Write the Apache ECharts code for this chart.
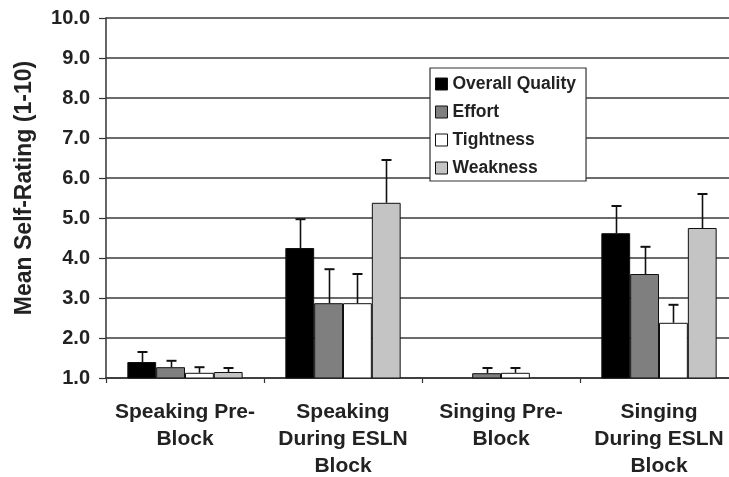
<!DOCTYPE html>
<html><head><meta charset="utf-8">
<script src="https://cdn.jsdelivr.net/npm/echarts@6/dist/echarts.min.js"></script>
<style>html,body{margin:0;padding:0;background:#fff}#c{width:729px;height:477px}</style>
</head><body><div id="c"></div>
<script>
const categories = ['Speaking Pre-\nBlock', 'Speaking\nDuring ESLN\nBlock', 'Singing Pre-\nBlock', 'Singing\nDuring ESLN\nBlock'];
const seriesNames = ['Overall Quality', 'Effort', 'Tightness', 'Weakness'];
const overallQuality = [1.4, 4.25, 1.0, 4.62];
const effort = [1.27, 2.87, 1.12, 3.6];
const tightness = [1.13, 2.87, 1.13, 2.38];
const weakness = [1.15, 5.38, 1.0, 4.75];
const overallQualityErr = [0.25, 0.72, 0, 0.68];
const effortErr = [0.16, 0.85, 0.13, 0.68];
const tightnessErr = [0.14, 0.73, 0.12, 0.45];
const weaknessErr = [0.1, 1.07, 0, 0.85];
const yTicks = [1, 2, 3, 4, 5, 6, 7, 8, 9, 10];

const values = [overallQuality, effort, tightness, weakness];
const errs = [overallQualityErr, effortErr, tightnessErr, weaknessErr];
const colors = ['#000000', '#7f7f7f', '#ffffff', '#c4c4c4'];
const gapFrac = 0.27;

const chart = echarts.init(document.getElementById('c'));
const series = [];
values.forEach((vals, i) => {
  series.push({
    name: seriesNames[i], type: 'bar', data: vals,
    barGap: '0%', barCategoryGap: (gapFrac * 100) + '%',
    itemStyle: { color: colors[i], borderColor: '#111', borderWidth: 1 },
    clip: true, z: 2
  });
});
const errData = [];
values.forEach((vals, i) => vals.forEach((v, c) => { if (errs[i][c] > 0) errData.push([c, v, v + errs[i][c], i]); }));
series.push({
  type: 'custom', data: errData, z: 3, silent: true,
  renderItem: function (params, api) {
    const c = api.value(0), lo = api.value(1), hi = api.value(2), idx = api.value(3);
    const band = api.size([1, 0])[0];
    const w = band * (1 - gapFrac) / 4;
    const p0 = api.coord([c, lo]), p1 = api.coord([c, hi]);
    const x = Math.round(p0[0] - 2 * w + (idx + 0.5) * w) + 0.5;
    const style = { stroke: '#111', lineWidth: 1.6 };
    return { type: 'group', children: [
      { type: 'line', shape: { x1: x, y1: p0[1], x2: x, y2: p1[1] }, style: style },
      { type: 'line', shape: { x1: x - 5, y1: p1[1], x2: x + 5, y2: p1[1] }, style: { stroke: '#111', lineWidth: 2 } }
    ]};
  }
});

chart.setOption({
  animation: false,
  backgroundColor: '#fff',
  textStyle: { fontFamily: 'Liberation Sans, Arial, sans-serif' },
  grid: { left: 106, top: 18, bottom: 99, right: -9, outerBoundsMode: 'none', containLabel: false },
  legend: {
    data: seriesNames, orient: 'vertical', left: 430, top: 68,
    backgroundColor: '#fff', borderColor: '#333', borderWidth: 1.2, borderRadius: 0,
    padding: [7, 10, 4, 5], itemGap: 10, itemWidth: 12, itemHeight: 12,
    icon: 'rect',
    textStyle: { fontFamily: 'Liberation Sans', fontWeight: 'bold', fontSize: 17.5, lineHeight: 18, color: '#222' },
    itemStyle: { borderColor: '#111', borderWidth: 1 }
  },
  xAxis: {
    type: 'category', data: categories,
    axisLine: { lineStyle: { color: '#333', width: 1.5 } },
    axisTick: { show: true, length: 5, lineStyle: { color: '#333', width: 1.2 } },
    axisLabel: { margin: 21, fontFamily: 'Liberation Sans', fontWeight: 'bold', fontSize: 21, color: '#222', lineHeight: 27, interval: 0 }
  },
  yAxis: {
    type: 'value', min: 1, max: 10, interval: 1,
    name: 'Mean Self-Rating (1-10)', nameLocation: 'middle', nameGap: 70, nameRotate: 90,
    nameTextStyle: { fontFamily: 'Liberation Sans', fontWeight: 'bold', fontSize: 23, color: '#222', padding: [0, 0, 0, 20] },
    axisLine: { show: true, lineStyle: { color: '#333', width: 1.5 } },
    axisTick: { show: true, length: 7, lineStyle: { color: '#333', width: 1.2 } },
    axisLabel: { margin: 16, fontFamily: 'Liberation Sans', fontWeight: 'bold', fontSize: 20, color: '#222', formatter: v => v.toFixed(1) },
    splitLine: { show: true, lineStyle: { color: '#3a3a3a', width: 1.5 } }
  },
  series: series
});
</script>
</body></html>
